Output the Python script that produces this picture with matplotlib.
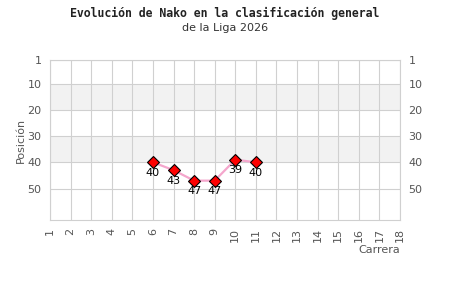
import matplotlib
matplotlib.use("Agg")
import matplotlib.pyplot as plt

# data
races = [6, 7, 8, 9, 10, 11]
positions = [40, 43, 47, 47, 39, 40]
x_ticks = list(range(1, 19))
y_ticks = [1, 10, 20, 30, 40, 50]
bands = [(10, 20), (30, 40)]

title = "Evolución de Nako en la clasificación general"
subtitle = "de la Liga 2026"

fig = plt.figure(figsize=(4.5, 3.0), dpi=100)
ax = fig.add_axes([50 / 450, 1 - 220 / 300, 350 / 450, 160 / 300])

grid_c = "#d0d0d0"
txt_c = "#555555"

for lo, hi in bands:
    ax.axhspan(lo, hi, color="#f2f2f2", zorder=0, lw=0)

ax.set_xlim(1, 18)
ax.set_ylim(62, 1)
ax.set_xticks(x_ticks)
ax.set_xticklabels([str(t) for t in x_ticks], rotation=90)
ax.set_yticks(y_ticks)
ax.grid(True, color=grid_c, linewidth=0.8, zorder=1)
ax.tick_params(length=0, labelsize=8, colors=txt_c, pad=6)
ax.tick_params(axis="y", labelright=True, pad=6)
for s in ax.spines.values():
    s.set_color(grid_c)
    s.set_linewidth(0.8)

ax.plot(races, positions, color="#f4a6cc", linewidth=1.6, zorder=3)
ax.plot(races, positions, linestyle="none", marker="D", markersize=6.5,
        markerfacecolor="#ff0000", markeredgecolor="black",
        markeredgewidth=0.8, zorder=4)
for x, y in zip(races, positions):
    ax.annotate(str(y), xy=(x, y), xytext=(0, -4), textcoords="offset points",
                ha="center", va="top", fontsize=8, color="black", zorder=5)

ax.set_ylabel("Posición", fontsize=8, color=txt_c, labelpad=1)
ax.set_xlabel("Carrera", fontsize=8, color=txt_c)
ax.xaxis.set_label_coords(1.0, -0.155)
ax.xaxis.label.set_ha("right")

fig.text(0.5, 1 - 13 / 300, title, ha="center", va="center", fontsize=8.3,
         fontweight="bold", family="DejaVu Sans Mono", color="#222222")
fig.text(0.5, 1 - 28 / 300, subtitle, ha="center", va="center", fontsize=8,
         color="#333333")

fig.savefig("out.png", dpi=100)
